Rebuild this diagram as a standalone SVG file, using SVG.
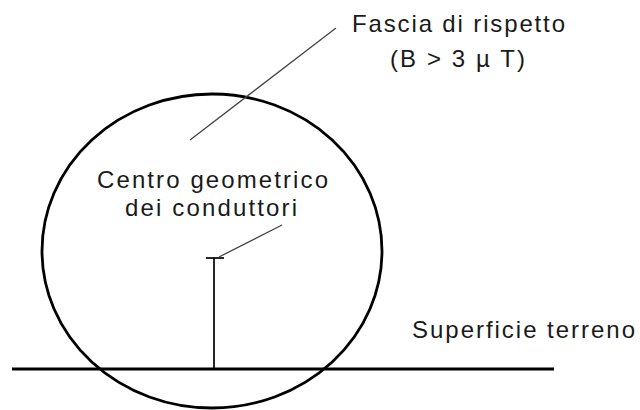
<svg xmlns="http://www.w3.org/2000/svg" width="640" height="410" viewBox="0 0 640 410">
<style>
.lbl{font-family:"Liberation Sans",Arial,sans-serif;font-size:24px;fill:#1a1a1a}
.leader{stroke:#444;stroke-width:1.3;fill:none}
</style>
<rect width="640" height="410" fill="#fff"/>
<g id="fascia">
<ellipse cx="212" cy="251" rx="170" ry="157" fill="none" stroke="#000" stroke-width="2.8"/>
<text class="lbl" x="352" y="32" textLength="213" lengthAdjust="spacing">Fascia di rispetto</text>
<text class="lbl" x="390" y="67" textLength="135" lengthAdjust="spacing">(B &gt; 3 µ T)</text>
</g>
<g id="terreno">
<line x1="12" y1="369" x2="554" y2="369" stroke="#000" stroke-width="3.2"/>
<text class="lbl" x="412" y="338" textLength="223" lengthAdjust="spacing">Superficie terreno</text>
</g>
<g id="centro">
<line x1="214" y1="258" x2="214" y2="369" stroke="#000" stroke-width="1.7"/>
<line x1="206" y1="258" x2="224" y2="258" stroke="#000" stroke-width="1.7"/>
<text class="lbl" x="97" y="188" textLength="231" lengthAdjust="spacing">Centro geometrico</text>
<text class="lbl" x="125" y="216" textLength="172" lengthAdjust="spacing">dei conduttori</text>
</g>
<g id="connectors">
<line class="leader" x1="190" y1="140" x2="336" y2="28"/>
<line class="leader" x1="219" y1="257" x2="282" y2="225"/>
</g>
</svg>
